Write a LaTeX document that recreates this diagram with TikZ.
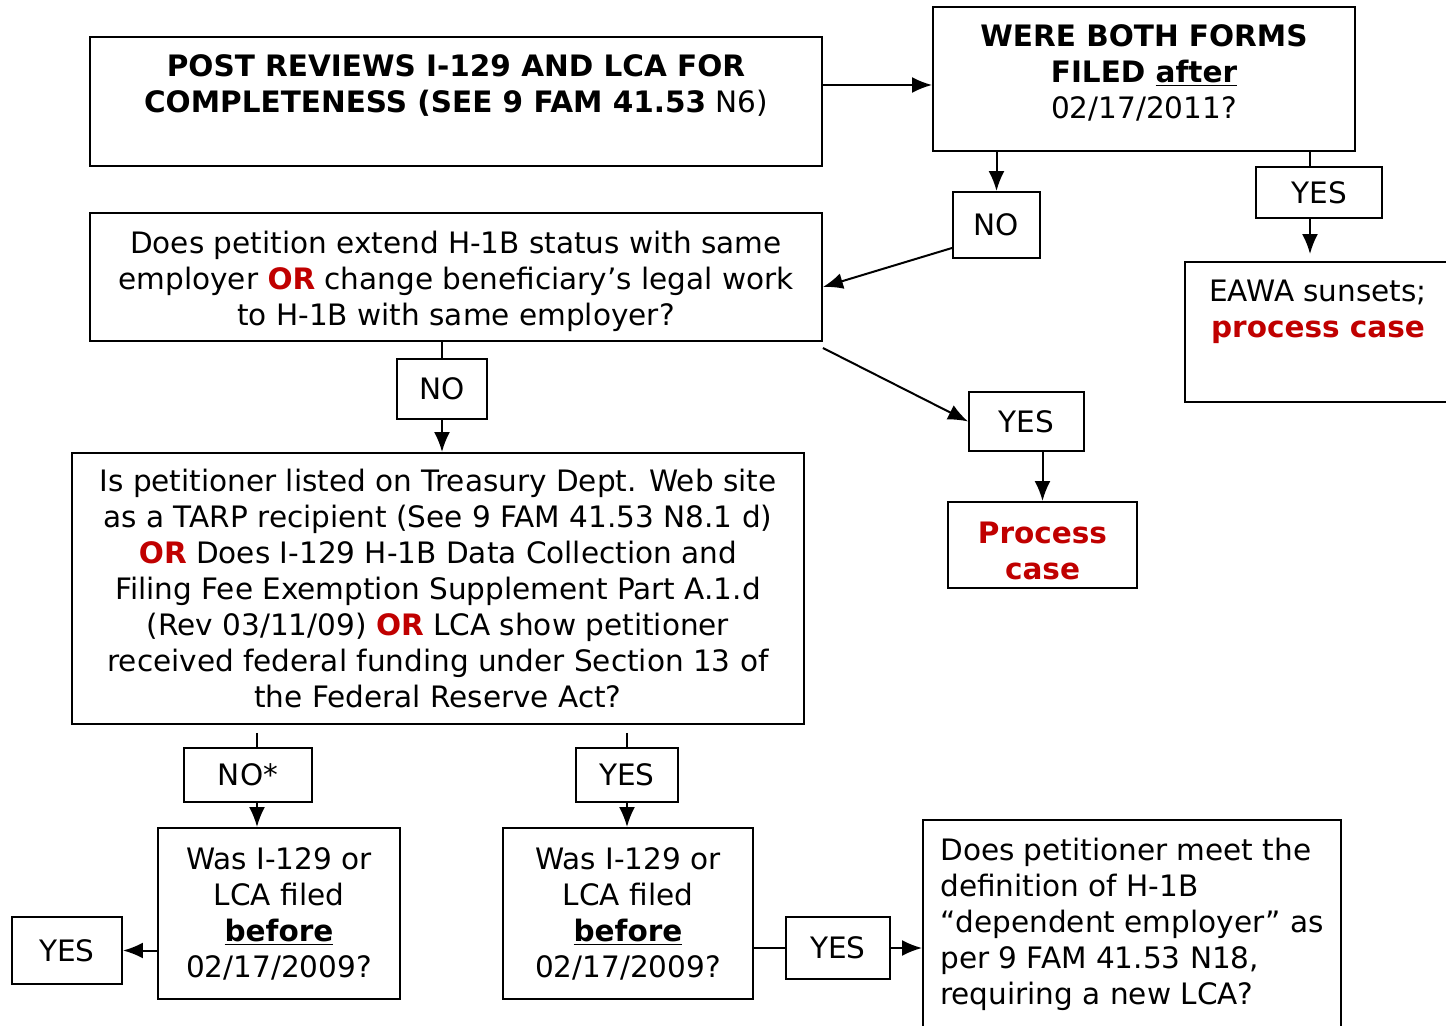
\documentclass[tikz,border=0pt]{standalone}
\usepackage{fontspec}
\setmainfont{DejaVu Sans}
\usetikzlibrary{arrows.meta}
\definecolor{orred}{RGB}{192,0,0}

\begin{document}
\begin{tikzpicture}[x=0.02cm,y=-0.02cm]
% Define styles for nodes and edges
\tikzstyle{box} = [draw, line width=0.04cm, align=center, inner sep=0pt, font=\fontsize{16.8}{20.5}\selectfont]
\tikzstyle{answer} = [box, minimum height=1.08cm]
\tikzstyle{line} = [line width=0.04cm]
\tikzstyle{arrow} = [line width=0.04cm, -{Latex[length=0.4cm,width=0.32cm]}]

\useasboundingbox (0,0) rectangle (1446,1026);

% Nodes
\node[box, minimum width=14.64cm, minimum height=2.58cm] (post) at (456,101.5)
  {\textbf{POST REVIEWS I-129 AND LCA FOR}\\\textbf{COMPLETENESS (SEE 9 FAM 41.53} N6)\\\mbox{}};
\node[box, minimum width=8.44cm, minimum height=2.88cm] (were) at (1144,79)
  {\textbf{WERE BOTH FORMS}\\\textbf{FILED \underline{after}}\\02/17/2011?\\[-0.42cm]\mbox{}};
\node[box, minimum width=14.64cm, minimum height=2.56cm] (does) at (456,277)
  {\mbox{}\\[-0.11cm]Does petition extend H-1B status with same\\employer \textcolor{orred}{\textbf{OR}} change beneficiary’s legal work\\to H-1B with same employer?};
\node[answer, minimum width=1.74cm, minimum height=1.32cm] (no1) at (996.5,225) {NO};
\node[answer, minimum width=2.52cm, minimum height=1.02cm] (yes1) at (1319,192.5) {YES};
\node[box, minimum width=5.32cm, minimum height=2.8cm] (eawa) at (1318,332)
  {EAWA sunsets;\\\textcolor{orred}{\textbf{process case}}\\[0.2cm]\mbox{}};
\node[answer, minimum width=2.3cm, minimum height=1.18cm] (yes2) at (1026.5,421.5) {YES};
\node[box, minimum width=3.78cm, minimum height=1.72cm] (proc) at (1042.5,545)
  {\mbox{}\\[-0.07cm]\textcolor{orred}{\textbf{Process}}\\\textcolor{orred}{\textbf{case}}};
\node[answer, minimum width=1.8cm, minimum height=1.2cm] (no2) at (442,389) {NO};
\node[box, minimum width=14.64cm, minimum height=5.42cm] (tarp) at (438,588.5)
  {Is petitioner listed on Treasury Dept. Web site\\as a TARP recipient (See 9 FAM 41.53 N8.1 d)\\\textcolor{orred}{\textbf{OR}} Does I-129 H-1B Data Collection and\\Filing Fee Exemption Supplement Part A.1.d\\(Rev 03/11/09) \textcolor{orred}{\textbf{OR}} LCA show petitioner\\received federal funding under Section 13 of\\the Federal Reserve Act?};
\node[answer, minimum width=2.56cm] (nostar) at (248,775) {NO*};
\node[answer, minimum width=2.04cm] (yes3) at (627,775) {YES};
\node[box, minimum width=4.84cm, minimum height=3.42cm] (wasL) at (279,913.5)
  {Was I-129 or\\LCA filed\\\textbf{\underline{before}}\\02/17/2009?};
\node[box, minimum width=5.0cm, minimum height=3.42cm] (wasR) at (628,913.5)
  {Was I-129 or\\LCA filed\\\textbf{\underline{before}}\\02/17/2009?};
\node[answer, minimum width=2.2cm, minimum height=1.34cm] (yesL) at (67,950.5) {YES};
\node[answer, minimum width=2.08cm, minimum height=1.24cm] (yesR) at (838,948) {YES};
\node[box, align=left, minimum width=8.36cm, minimum height=4.78cm] (dep) at (1132,939.5)
  {Does petitioner meet the\\definition of H-1B\\“dependent employer” as\\per 9 FAM 41.53 N18,\\requiring a new LCA?\\\mbox{}};

% Edges
\draw[arrow] ([yshift=0.33cm]post.east) -- ([yshift=0.33cm]post.east -| were.west);
\draw[arrow] (were.south -| no1.north) -- (no1.north);
\draw[arrow] ([yshift=0.22cm]no1.south west) -- ([yshift=-0.2cm]does.east);
\draw[line] ([xshift=-0.18cm]were.south -| yes1.north) -- ([xshift=-0.18cm]yes1.north);
\draw[arrow, shorten >=0.14cm] ([xshift=-0.18cm]yes1.south) -- ([xshift=-0.18cm]yes1.south |- eawa.north);
\draw[line] (does.south -| no2.north) -- (no2.north);
\draw[arrow] (no2.south) -- (no2.south |- tarp.north);
\draw[arrow] ([yshift=-0.12cm]does.south east) -- (yes2.west);
\draw[arrow] (yes2.south -| proc.north) -- (proc.north);
\draw[line, shorten <=0.16cm] ([xshift=0.18cm]tarp.south -| nostar.north) -- ([xshift=0.18cm]nostar.north);
\draw[arrow] ([xshift=0.18cm]nostar.south) -- ([xshift=0.18cm]nostar.south |- wasL.north);
\draw[line, shorten <=0.16cm] (tarp.south -| yes3.north) -- (yes3.north);
\draw[arrow] (yes3.south) -- (yes3.south |- wasR.north);
\draw[arrow] (wasL.west |- yesL.east) -- (yesL.east);
\draw[line] (wasR.east |- yesR.west) -- (yesR.west);
\draw[arrow] (yesR.east) -- (yesR.east -| dep.west);
\end{tikzpicture}
\end{document}
